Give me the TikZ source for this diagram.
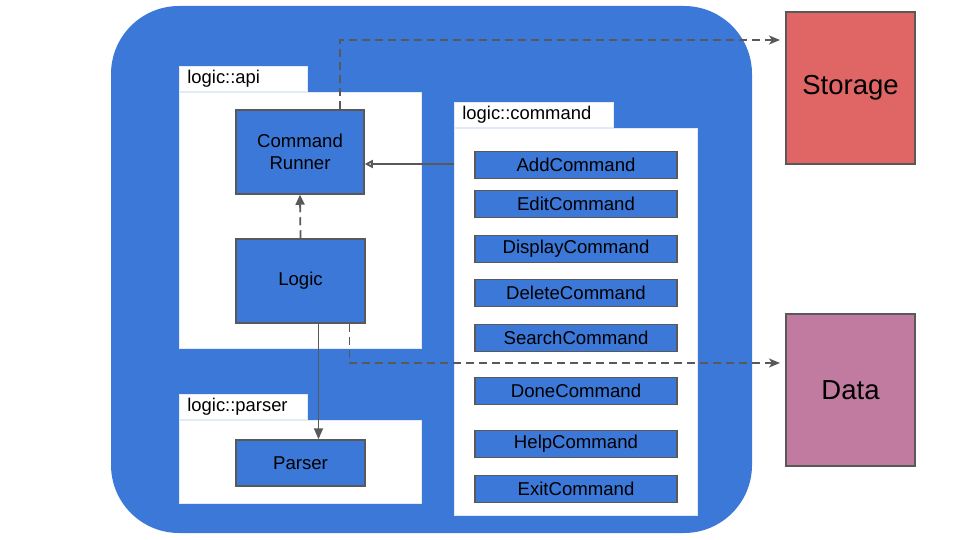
\documentclass[tikz,border=0pt]{standalone}
\usepackage{fontspec}
\setmainfont{Liberation Sans}
\usetikzlibrary{arrows.meta}
\definecolor{gblue}{HTML}{3C78D8}
\definecolor{gline}{HTML}{595959}
\definecolor{gred}{HTML}{E06666}
\definecolor{gpink}{HTML}{C27BA0}
\begin{document}
\begin{tikzpicture}[x=1pt,y=-1pt,
  cls/.style={draw=gline, line width=1.5pt, fill=gblue, inner sep=0pt, align=center,
    font=\fontsize{18.6}{21.5}\selectfont},
  cmdcls/.style={cls, minimum width=202pt, minimum height=27pt},
  pkg/.style={fill=white, draw=white!85!gblue, line width=0.8pt, inner sep=0pt},
  pkglbl/.style={pkg, inner xsep=8pt, text width=112pt, align=left, minimum height=25pt,
    anchor=north west, font=\fontsize{18.4}{21}\selectfont},
  ext/.style={draw=gline, line width=1.2pt, inner sep=0pt, font=\fontsize{27.5}{30}\selectfont,
    minimum width=129pt, minimum height=152pt},
  conn/.style={draw=gline, line width=1.8pt},
  dep/.style={conn, dash pattern=on 8pt off 5pt}
]
\useasboundingbox (0,0) rectangle (960,540);
\fill[gblue, rounded corners=68pt] (111,6) rectangle (752,533);

% packages
\node[pkglbl] (apilbl) at (179,66) {logic::api};
\node[pkg, anchor=north west, minimum width=242pt, minimum height=256pt] (api) at (179,92) {};
\node[pkglbl] (parlbl) at (179,394) {logic::parser};
\node[pkg, anchor=north west, minimum width=242pt, minimum height=83pt] (par) at (179,420) {};
\node[pkglbl, text width=143pt] (cmdlbl) at (454,102) {logic::command};
\node[pkg, anchor=north west, minimum width=243pt, minimum height=387pt] (cmd) at (454,128) {};

% classes
\node[cls, minimum width=128pt, minimum height=84pt] (runner) at (300,152) {Command\\Runner};
\node[cls, minimum width=129pt, minimum height=84pt] (logic) at (300.5,281) {Logic};
\node[cls, minimum width=129pt, minimum height=46pt] (parser) at (300.5,463) {Parser};

\node[cmdcls] (add) at (576,165) {AddCommand};
\node[cmdcls] (edit) at (576,204) {EditCommand};
\node[cmdcls] (disp) at (576,249) {DisplayCommand};
\node[cmdcls] (del) at (576,293) {DeleteCommand};
\node[cmdcls] (search) at (576,338) {SearchCommand};
\node[cmdcls] (done) at (576,391) {DoneCommand};
\node[cmdcls] (help) at (576,444) {HelpCommand};
\node[cmdcls] (exit) at (576,489) {ExitCommand};

% external
\node[ext, fill=gred] (storage) at (850.5,88) {Storage};
\node[ext, fill=gpink] (data) at (850.5,390) {Data};

\coordinate (stin) at (780,40);
\coordinate (datain) at (780,363);

% connectors
\draw[dep, -{Stealth[length=11pt,width=9pt,inset=3pt]}] ([xshift=40pt]runner.north) |- (stin);
\draw[dep, -{Stealth[length=11pt,width=9pt,inset=3pt]}] ([xshift=49pt]logic.south) |- (datain);
\draw[dep, -{Triangle[length=10pt,width=9pt]}] (logic.north) -- (runner.south);
\draw[conn, -{Triangle[length=11pt,width=9pt]}] ([xshift=18pt]logic.south) -- ([xshift=18pt]parser.north);
\draw[conn, -{Triangle[open,length=8pt,width=8pt]}] (cmd.west |- 0,164) -- (runner.east |- 0,164);
\end{tikzpicture}
\end{document}
